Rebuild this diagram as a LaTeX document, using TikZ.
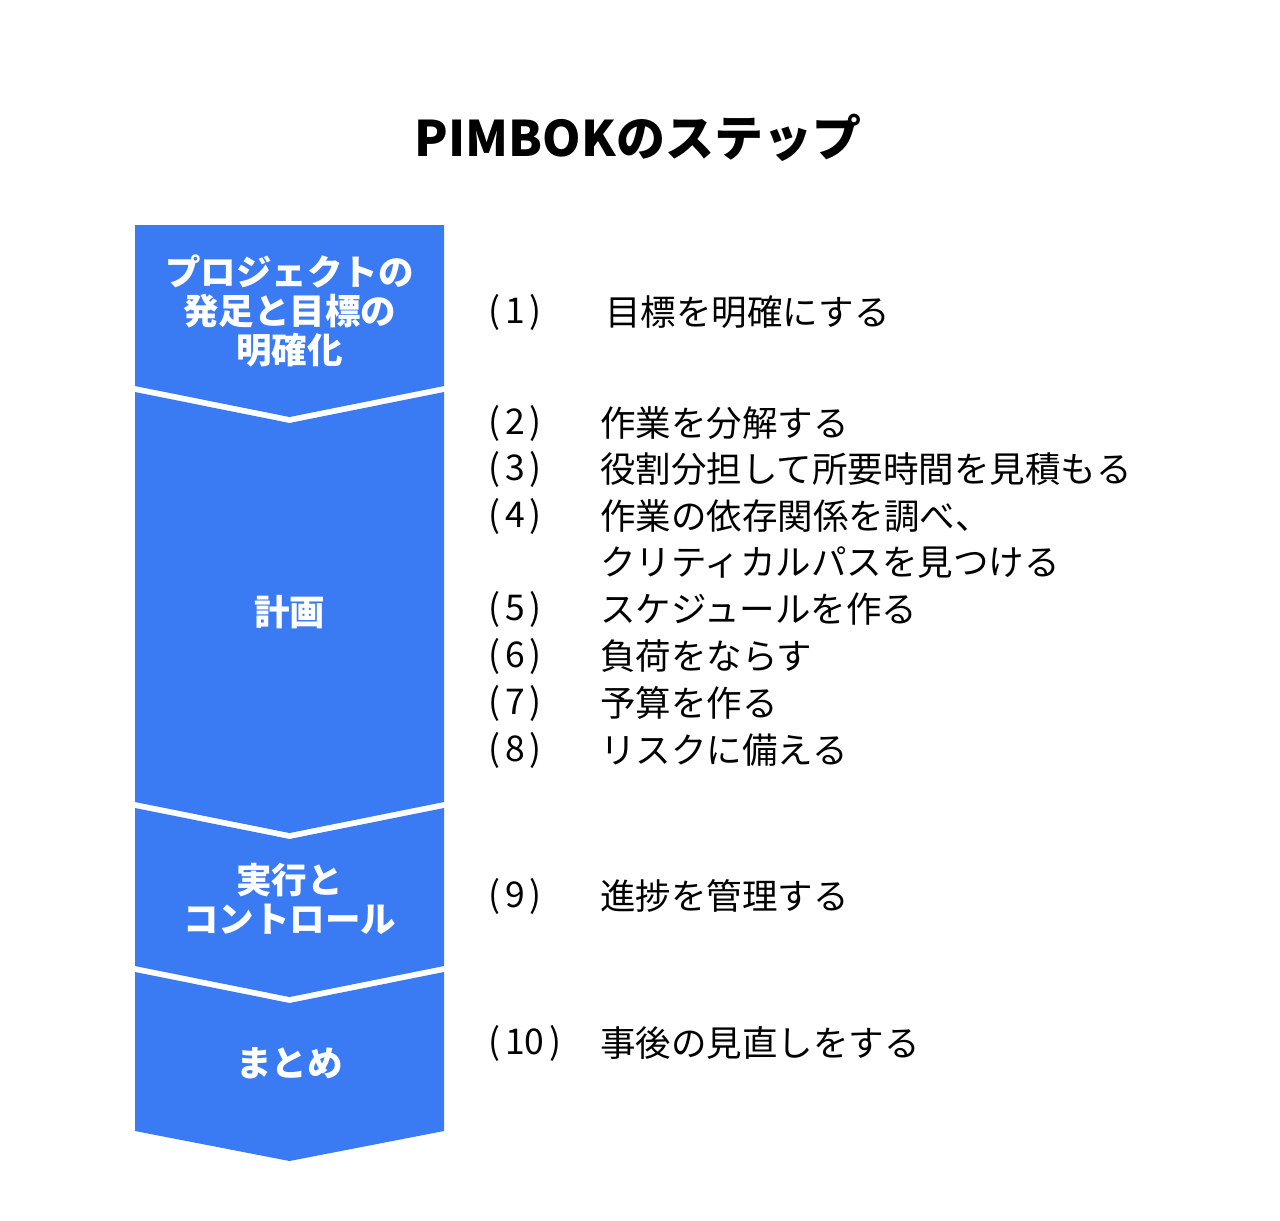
\documentclass[tikz,border=0pt]{standalone}
\usepackage{fontspec}
\setmainfont{Noto Sans CJK JP}
\usepackage{xcolor}
\usepackage{tikz}
\definecolor{stepblue}{RGB}{58,123,244}

\tikzset{
  stage/.style={fill=stepblue},
  stagelabel/.style={text=white, inner sep=0pt, align=center,
    font=\fontsize{35.5}{39}\selectfont\bfseries},
  itemno/.style={anchor=west, inner sep=0pt, font=\fontsize{35.5}{40}\selectfont},
  itemtext/.style={anchor=west, inner sep=0pt, font=\fontsize{35.5}{40}\selectfont},
}

\begin{document}
\begin{tikzpicture}[x=1pt,y=-1pt]
  \useasboundingbox (0,0) rectangle (1280,1221);

  % Titel
  \node[inner sep=0pt, font=\fontsize{49}{52}\selectfont\bfseries] (title) at (638,138) {PIMBOKのステップ};

  % Pfeil-Bloecke
  \fill[stage] (135,225) -- (444,225) -- (444,386) -- (289.5,417) -- (135,386) -- cycle;
  \fill[stage] (135,392) -- (289.5,423) -- (444,392) -- (444,802) -- (289.5,833) -- (135,802) -- cycle;
  \fill[stage] (135,808) -- (289.5,839) -- (444,808) -- (444,966) -- (289.5,997) -- (135,966) -- cycle;
  \fill[stage] (135,972) -- (289.5,1003) -- (444,972) -- (444,1131) -- (289.5,1161) -- (135,1131) -- cycle;

  % Phasen
  \node[stagelabel] (start) at (289.5,311) {プロジェクトの\\発足と目標の\\明確化};
  \node[stagelabel] (plan) at (289.5,612) {計画};
  \node[stagelabel] (exec) at (289.5,899) {実行と\\コントロール};
  \node[stagelabel] (close) at (289.5,1063) {まとめ};

  % Schritte
  \node[itemno] (no1) at (488,312) {(\kern5pt1\kern5pt)};
  \node[itemtext] (step1) at (605,312) {目標を明確にする};
  \node[itemno] (no2) at (488,423) {(\kern5pt2\kern5pt)};
  \node[itemtext] (step2) at (600,423) {作業を分解する};
  \node[itemno] (no3) at (488,469) {(\kern5pt3\kern5pt)};
  \node[itemtext] (step3) at (600,469) {役割分担して所要時間を見積もる};
  \node[itemno] (no4) at (488,516) {(\kern5pt4\kern5pt)};
  \node[itemtext] (step4) at (600,516) {作業の依存関係を調べ、};
  \node[itemtext] (step4b) at (600,563) {クリティカルパスを見つける};
  \node[itemno] (no5) at (488,609) {(\kern5pt5\kern5pt)};
  \node[itemtext] (step5) at (600,609) {スケジュールを作る};
  \node[itemno] (no6) at (488,656) {(\kern5pt6\kern5pt)};
  \node[itemtext] (step6) at (600,656) {負荷をならす};
  \node[itemno] (no7) at (488,703) {(\kern5pt7\kern5pt)};
  \node[itemtext] (step7) at (600,703) {予算を作る};
  \node[itemno] (no8) at (488,750) {(\kern5pt8\kern5pt)};
  \node[itemtext] (step8) at (600,750) {リスクに備える};
  \node[itemno] (no9) at (488,896) {(\kern5pt9\kern5pt)};
  \node[itemtext] (step9) at (600,896) {進捗を管理する};
  \node[itemno] (no10) at (488,1043) {(\kern5pt10\kern5pt)};
  \node[itemtext] (step10) at (600,1043) {事後の見直しをする};
\end{tikzpicture}
\end{document}
